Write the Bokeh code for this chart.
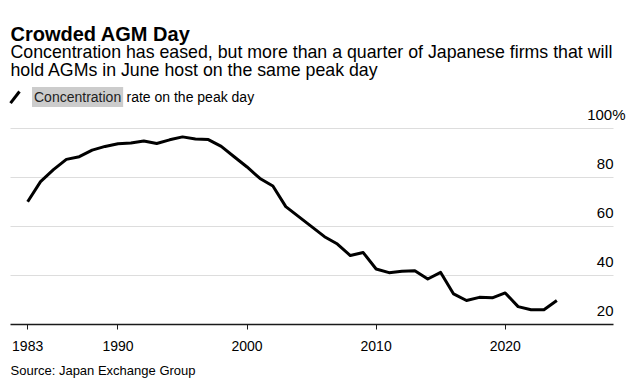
from bokeh.plotting import figure
from bokeh.models import Label, Arrow, FixedTicker, Range1d, Title
from bokeh.embed import file_html
from bokeh.resources import INLINE

# ---- data -------------------------------------------------------------
years = list(range(1983, 2025))
concentration = [70.2, 78.4, 83.3, 87.5, 88.6, 91.3, 92.8, 93.9, 94.2, 95.0,
                 94.0, 95.5, 96.7, 95.8, 95.6, 92.8, 88.6, 84.4, 79.7, 76.6,
                 68.2, 64.1, 60.0, 55.9, 52.9, 48.2, 49.4, 42.7, 41.2, 41.8,
                 42.0, 38.6, 41.3, 32.5, 29.8, 31.1, 30.9, 32.9, 27.3, 26.0,
                 26.0, 29.8]
x_ticks = [1983, 1990, 2000, 2010, 2020]
x_tick_labels = ["1983", "1990", "2000", "2010", "2020"]
y_ticks = [20, 40, 60, 80, 100]
y_tick_labels = ["20", "40", "60", "80", "100%"]

title = "Crowded AGM Day"
subtitle = ["Concentration has eased, but more than a quarter of Japanese firms that will",
            "hold AGMs in June host on the same peak day"]
legend_label = "Concentration"
legend_rest = "rate on the peak day"
source_text = "Source: Japan Exchange Group"

FONT = "Liberation Sans"

W, H = 635, 385
MB = 61                      # space below the plotting area (axis + source)
X_LO, X_HI = 1980.897, 2030.095
AX_LO, AX_HI = 1981.67, 2028.39   # extent of axis line and gridlines
GRID_RIGHT = 613             # screen x of the right end of the gridlines

p = figure(width=W, height=H, title=None,
           x_range=Range1d(X_LO, X_HI), y_range=Range1d(20, 152.46),
           output_backend="svg", toolbar_location=None,
           min_border_left=0, min_border_right=0,
           min_border_top=0, min_border_bottom=MB,
           y_axis_location=None, outline_line_color=None,
           background_fill_color="white", border_fill_color="white")

p.xgrid.visible = False
g = p.ygrid[0]
g.ticker = FixedTicker(ticks=y_ticks[1:])
g.grid_line_color = "#dddddd"
g.grid_line_width = 1.2
try:
    g.cross_bounds = (AX_LO, AX_HI)
except Exception:
    pass

ax = p.xaxis[0]
ax.bounds = (AX_LO, AX_HI)
ax.ticker = FixedTicker(ticks=x_ticks)
ax.major_label_overrides = {t: l for t, l in zip(x_ticks, x_tick_labels)}
ax.axis_line_color = "#1a1a1a"
ax.axis_line_width = 1.6
ax.major_tick_line_color = "#1a1a1a"
ax.major_tick_line_width = 1
ax.major_tick_out = 5
ax.major_tick_in = 0
ax.minor_tick_out = 0
ax.minor_tick_in = 0
ax.major_label_text_font = FONT
ax.major_label_text_font_size = "14px"
ax.major_label_text_color = "#000000"
ax.major_label_standoff = 11

p.line(years, concentration, line_color="black", line_width=3,
       line_join="round")

# y labels above gridlines, right aligned
for v, t in zip(y_ticks, y_tick_labels):
    p.add_layout(Label(x=GRID_RIGHT, x_units="screen", y=v, y_units="data",
                       text=t, text_align="right", text_baseline="alphabetic",
                       x_offset=12 if t.endswith("%") else 0, y_offset=14,
                       text_font=FONT, text_font_size="15px",
                       text_color="#000000"))

# Header texts (screen units, measured from the bottom of the plot area)
p.add_layout(Label(x=10, y=291, x_units="screen", y_units="screen", text=title,
                   text_font=FONT, text_font_size="20px", text_font_style="bold",
                   text_baseline="alphabetic", text_color="#000000"))
for i, line in enumerate(subtitle):
    p.add_layout(Label(x=10, y=273 - i * 18.5, x_units="screen", y_units="screen",
                       text=line, text_font=FONT, text_font_size="17.75px",
                       text_baseline="alphabetic", text_color="#000000"))

# legend
p.add_layout(Arrow(end=None, x_start=10, y_start=221.3, x_end=19, y_end=233,
                   start_units="screen", end_units="screen",
                   line_color="black", line_width=3))
p.add_layout(Label(x=31.5, y=227.5, x_units="screen", y_units="screen",
                   text=legend_label, text_font=FONT, text_font_size="14px",
                   text_baseline="alphabetic", text_color="#222222",
                   background_fill_color="#cccccc", padding=2))
p.add_layout(Label(x=126, y=227.5, x_units="screen", y_units="screen",
                   text=legend_rest, text_font=FONT, text_font_size="14px",
                   text_baseline="alphabetic", text_color="#000000"))

# source
p.add_layout(Title(text=source_text, align="left", offset=10, standoff=15,
                   text_font=FONT, text_font_size="13px",
                   text_font_style="normal", text_color="#000000"), "below")

open("out.html", "w").write(file_html(p, INLINE))
